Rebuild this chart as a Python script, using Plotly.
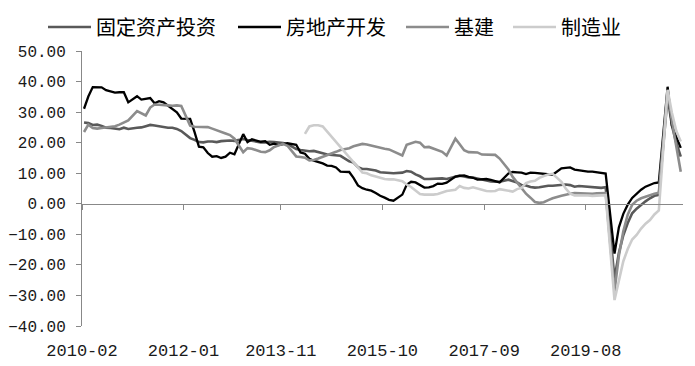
import pandas as pd
import plotly.graph_objects as go

# ---- categories (monthly, Jan-Feb combined as in NBS releases) ----
years = list(range(2010, 2022))
months = [f"{y}-{m:02d}" for y in years for m in range(2, 13) if not (y == 2021 and m > 5)]

tick_labels = ["2010-02", "2012-01", "2013-11", "2015-10", "2017-09", "2019-08"]

# ---- series values (cumulative y/y %, Feb..Dec each year) ----
fai = [
    26.6, 26.4, 25.8, 25.9, 25.5, 24.9, 24.8, 24.5, 24.4, 24.9, 24.5,   # 2010
    24.9, 25.0, 25.4, 25.8, 25.6, 25.4, 25.0, 24.9, 24.9, 24.5, 23.8,   # 2011
    21.5, 20.9, 20.2, 20.1, 20.4, 20.4, 20.2, 20.5, 20.7, 20.7, 20.6,   # 2012
    21.2, 20.9, 20.6, 20.4, 20.1, 20.1, 20.3, 20.2, 20.1, 19.9, 19.6,   # 2013
    17.9, 17.6, 17.3, 17.2, 17.3, 17.0, 16.5, 16.1, 15.9, 15.8, 15.7,   # 2014
    13.9, 13.5, 12.0, 11.4, 11.4, 11.2, 10.9, 10.3, 10.2, 10.2, 10.0,   # 2015
    10.2, 10.7, 10.5, 9.6, 9.0, 8.1, 8.1, 8.2, 8.3, 8.3, 8.1,           # 2016
    8.9, 9.2, 8.9, 8.6, 8.6, 8.3, 7.8, 7.5, 7.3, 7.2, 7.2,              # 2017
    7.9, 7.5, 7.0, 6.1, 6.0, 5.5, 5.3, 5.4, 5.7, 5.9, 5.9,              # 2018
    6.1, 6.3, 6.1, 5.6, 5.8, 5.7, 5.5, 5.4, 5.2, 5.2, 5.4,              # 2019
    -24.5, -16.1, -10.3, -6.3, -3.1, -1.6, -0.3, 0.8, 1.8, 2.6, 2.9,    # 2020
    35.0, 25.6, 19.9, 15.4,                                             # 2021
]

real_estate = [
    31.1, 35.1, 38.2, 38.2, 38.1, 37.2, 36.7, 36.4, 36.5, 36.5, 33.2,
    35.2, 34.1, 34.3, 34.6, 32.9, 33.6, 33.2, 32.0, 31.1, 29.9, 27.9,
    27.8, 23.5, 18.7, 18.5, 16.6, 15.4, 15.6, 15.0, 15.4, 16.7, 16.2,
    22.8, 20.2, 21.1, 20.6, 20.3, 20.5, 19.3, 19.7, 19.2, 19.5, 19.8,
    19.3, 16.8, 16.4, 14.7, 14.1, 13.7, 13.2, 12.5, 12.4, 11.9, 10.5,
    10.4, 8.5, 6.0, 5.1, 4.6, 4.3, 3.5, 2.6, 2.0, 1.3, 1.0,
    3.0, 6.2, 7.2, 7.0, 6.1, 5.3, 5.4, 5.8, 6.6, 6.5, 6.9,
    8.9, 9.1, 9.3, 8.8, 8.5, 7.9, 7.9, 8.1, 7.8, 7.5, 7.0,
    9.9, 10.4, 10.3, 10.2, 9.7, 10.2, 10.1, 9.9, 9.7, 9.7, 9.5,
    11.6, 11.8, 11.9, 11.2, 10.9, 10.6, 10.5, 10.5, 10.3, 10.2, 9.9,
    -16.3, -7.7, -3.3, -0.3, 1.9, 3.4, 4.6, 5.6, 6.3, 6.8, 7.0,
    38.3, 25.6, 21.6, 18.3,
]

infra = [
    23.5, 25.9, 24.8, 24.6, 24.8, 25.0, 25.1, 25.4, 25.9, 26.5, 27.3,
    30.3, 29.6, 28.9, 31.5, 32.5, 32.4, 32.2, 32.2, 32.1, 32.2, 32.0,
    25.6, 25.2, 25.1, 25.1, 25.1, 24.6, 24.0, 23.5, 23.0, 22.5, 21.3,
    16.9, 18.2, 18.0, 17.5, 17.0, 16.9, 17.5, 18.6, 19.0, 19.6, 19.0,
    15.5, 15.3, 15.1, 14.2, 14.3, 14.8, 15.3, 16.0, 16.5, 17.0, 17.6,
    18.2, 18.8, 19.2, 19.6, 19.4, 19.0, 18.8, 18.3, 18.0, 17.8, 17.2,
    15.8, 19.3, 19.8, 20.3, 20.0, 18.5, 18.6, 18.0, 17.5, 17.0, 15.8,
    21.3, 19.5, 17.5, 16.9, 16.9, 16.8, 16.1, 16.1, 16.1, 16.0, 14.8,
    11.2, 8.8, 7.0, 5.0, 3.3, 2.0, 0.6, 0.3, 0.5, 1.2, 1.8,
    2.6, 3.0, 3.3, 3.5, 3.4, 3.3, 3.3, 3.3, 3.4, 3.4, 3.5,
    -28.5, -17.0, -9.0, -3.6, -0.3, 1.0, 1.8, 2.3, 2.9, 3.3, 3.6,
    37.0, 27.0, 18.0, 10.5,
]

manufacturing = [
    None, None, None, None, None, None, None, None, None, None, None,
    None, None, None, None, None, None, None, None, None, None, None,
    None, None, None, None, None, None, None, None, None, None, None,
    None, None, None, None, None, None, None, None, None, None, None,
    None, None, 22.9, 25.3, 25.7, 25.7, 25.3, None, None, None, None,
    None, None, None, 10.2, 10.0, 9.3, 8.9, 8.4, 8.1, 8.0, 8.0,
    7.4, 6.3, 5.5, 4.4, 3.2, 3.0, 2.9, 3.0, 3.2, 3.7, 4.2,
    4.6, 5.8, 5.2, 5.0, 5.4, 5.0, 4.6, 4.2, 4.1, 4.2, 4.8,
    4.3, 4.0, 4.8, 5.2, 6.8, 7.3, 7.5, 8.5, 9.1, 9.6, 9.8,
    7.2, 5.0, 3.3, 2.7, 2.7, 2.9, 2.7, 2.6, 2.6, 2.6, 2.8,
    -31.5, -25.2, -18.8, -14.8, -11.7, -10.2, -8.1, -6.5, -5.3, -3.5, -2.2,
    37.3, 29.8, 23.8, 20.4,
]

series_names = ["固定资产投资", "房地产开发", "基建", "制造业"]
series_values = [fai, real_estate, infra, manufacturing]

# ---- styles ----
colors = ["#595959", "#000000", "#8c8c8c", "#cccccc"]
widths = [2.6, 2.3, 2.6, 2.6]
legend_ids = ["legend", "legend2", "legend3", "legend4"]
legend_x_px = [35, 225, 393, 500]


# each month is drawn at the middle of its slot on a monthly date axis
def mid(m):
    p = pd.Period(m, "M")
    return p.start_time + (p.end_time - p.start_time) / 2


x_vals = [mid(m) for m in months]

fig = go.Figure()
for name, vals, c, w, lg in zip(series_names, series_values, colors, widths, legend_ids):
    fig.add_trace(go.Scatter(
        x=x_vals, y=vals, name=name, mode="lines",
        line=dict(color=c, width=w), connectgaps=True, legend=lg,
    ))

# the page body adds an 8px offset, so the figure is sized to fit the window
W, H = 687, 358
tick_font = dict(family="Liberation Mono, DejaVu Sans Mono, monospace", size=16, color="#1a1a1a")

legend_common = dict(
    orientation="h", xref="container", yref="container",
    xanchor="left", yanchor="middle", y=1 - 19 / H,
    itemwidth=43,
    font=dict(family="Noto Sans CJK SC", size=20, color="#000000"),
    bgcolor="rgba(0,0,0,0)", borderwidth=0,
)
legends = {}
for lg, px in zip(legend_ids, legend_x_px):
    legends[lg] = dict(legend_common, x=px / W)

fig.update_layout(
    width=W, height=H,
    margin=dict(l=74, r=12, t=43, b=40, autoexpand=False),
    paper_bgcolor="white", plot_bgcolor="white",
    showlegend=True,
    **legends,
    xaxis=dict(
        type="date", automargin=False,
        range=[pd.Period("2010-02", "M").start_time, pd.Period("2021-05", "M").end_time],
        tickmode="array",
        tickvals=[pd.Period(t, "M").start_time for t in tick_labels],
        ticktext=tick_labels,
        anchor="free", position=40 / 90,
        showline=True, linecolor="#888888", linewidth=1,
        ticks="outside", ticklen=5, tickcolor="#888888",
        ticklabelstandoff=126,
        showgrid=False, zeroline=False,
        tickfont=dict(tick_font, size=17),
    ),
    yaxis=dict(
        automargin=False,
        range=[-40, 50], dtick=10, tick0=0, tickformat=".2f",
        showline=True, linecolor="#888888", linewidth=1,
        ticks="outside", ticklen=5, tickcolor="#888888",
        ticklabelstandoff=7,
        showgrid=False, zeroline=False,
        tickfont=tick_font,
    ),
)

fig.write_html("out.html")
